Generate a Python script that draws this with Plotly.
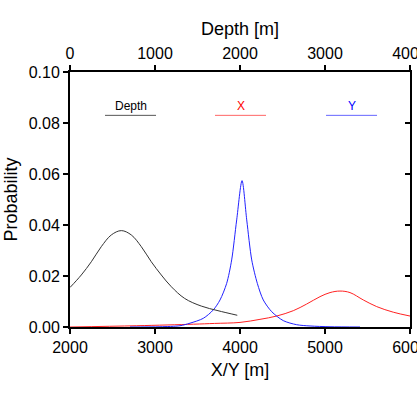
import plotly.graph_objects as go

# Depth curve (top axis: Depth [m])
depth_x = [0, 133, 251, 368, 486, 604, 721, 839, 956, 1074, 1192, 1349, 1545, 1741, 1968]
depth_p = [0.0155, 0.0204, 0.0256, 0.0315, 0.0361, 0.0378, 0.0361, 0.0315, 0.0256, 0.0204, 0.0158, 0.0112, 0.0082, 0.0064, 0.0046]

# X curve (bottom axis: X/Y [m])
x_x = [2000, 2785, 3451, 3700, 4000, 4235, 4431, 4627, 4784, 4941, 5059, 5176, 5294, 5451, 5608, 5804, 6000]
x_p = [0.0, 0.0005, 0.0011, 0.0014, 0.0018, 0.0030, 0.0043, 0.0064, 0.0090, 0.0119, 0.0135, 0.0141, 0.0135, 0.0106, 0.0080, 0.0058, 0.0043]

# Y curve (bottom axis: X/Y [m])
y_x = [2706, 3059, 3294, 3412, 3568, 3686, 3765, 3843, 3902, 3961, 4024, 4079, 4138, 4204, 4274, 4373, 4509, 4667, 4824, 5059, 5412]
y_p = [0.0, 0.0001, 0.0005, 0.0015, 0.0034, 0.0067, 0.0106, 0.0171, 0.0263, 0.0420, 0.0574, 0.0420, 0.0263, 0.0171, 0.0106, 0.0060, 0.0025, 0.0009, 0.0004, 0.0001, 0.0]

labels = ["Depth", "X", "Y"]
label_colors = ["#000000", "#ff0000", "#0000ff"]
label_line_colors = ["#555555", "#ff6666", "#6666ff"]
label_x0 = [2412, 3706, 5012]
label_x1 = [3012, 4306, 5612]

FONT = "Liberation Sans, Arial, sans-serif"

fig = go.Figure()
fig.add_trace(go.Scatter(x=depth_x, y=depth_p, mode="lines", line=dict(color="#333333", width=1, shape="spline", smoothing=1),
                         xaxis="x2", yaxis="y", showlegend=False))
fig.add_trace(go.Scatter(x=x_x, y=x_p, mode="lines", line=dict(color="#ff2222", width=1, shape="spline", smoothing=1),
                         showlegend=False))
fig.add_trace(go.Scatter(x=y_x, y=y_p, mode="lines", line=dict(color="#2222ff", width=1, shape="spline", smoothing=0.8),
                         showlegend=False))

for lab, c, lc, a, b in zip(labels, label_colors, label_line_colors, label_x0, label_x1):
    fig.add_shape(type="line", x0=a, x1=b, y0=0.083, y1=0.083, xref="x", yref="y",
                  line=dict(color=lc, width=1))
    fig.add_annotation(x=(a + b) / 2, y=0.0868, xref="x", yref="y", text=lab, showarrow=False,
                       font=dict(family=FONT, size=12, color=c))

axis_common = dict(showgrid=False, zeroline=False, linecolor="black", linewidth=2,
                   tickcolor="black", tickwidth=1.5, ticklen=5, automargin=False,
                   ticklabeloverflow="allow",
                   tickfont=dict(family=FONT, size=16, color="black"))

fig.update_layout(
    width=417, height=398, autosize=False,
    margin=dict(l=70, r=7, t=72, b=71, autoexpand=False),
    paper_bgcolor="white", plot_bgcolor="white",
    xaxis=dict(range=[2000, 6000], tickvals=[2000, 3000, 4000, 5000, 6000], ticks="outside",
               title=dict(text="X/Y [m]", font=dict(family=FONT, size=18, color="black"), standoff=8),
               showline=True, **axis_common),
    xaxis2=dict(range=[0, 4000], tickvals=[0, 1000, 2000, 3000, 4000], overlaying="x", side="top",
                anchor="y", ticks="outside",
                title=dict(text="Depth [m]", font=dict(family=FONT, size=18, color="black"), standoff=4),
                showline=True, **axis_common),
    yaxis=dict(range=[0, 0.1], tickvals=[0, 0.02, 0.04, 0.06, 0.08, 0.1], tickformat=".2f", ticks="outside",
               title=dict(text="Probability", font=dict(family=FONT, size=18, color="black"), standoff=6),
               showline=True, **axis_common),
    yaxis2=dict(range=[0, 0.1], tickvals=[0, 0.02, 0.04, 0.06, 0.08, 0.1], overlaying="y", side="right",
                anchor="x", ticks="inside", showticklabels=False, showline=True, automargin=False,
                showgrid=False, zeroline=False, linecolor="black", linewidth=2,
                tickcolor="black", tickwidth=1.5, ticklen=5),
)
fig.add_trace(go.Scatter(x=[None], y=[None], yaxis="y2", showlegend=False))

fig.write_html("out.html", config={"responsive": False, "displayModeBar": False})

# remove the default browser body margin so the figure sits at the page origin
with open("out.html", encoding="utf-8") as f:
    html = f.read()
html = html.replace("<body>", '<body style="margin:0;padding:0;">', 1)
with open("out.html", "w", encoding="utf-8") as f:
    f.write(html)
